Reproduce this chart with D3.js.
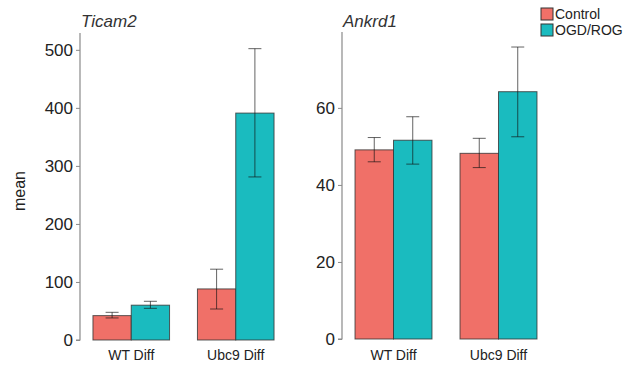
<!DOCTYPE html>
<html>
<head>
<meta charset="utf-8">
<script src="https://cdn.jsdelivr.net/npm/d3@7"></script>
<style>
  body { margin: 0; background: #fff; }
  svg { display: block; font-family: Arial, "Liberation Sans", sans-serif; }
</style>
</head>
<body>
<div id="chart"></div>
<script>
// ---- data ----
const groups = ["WT Diff", "Ubc9 Diff"];
const conditions = ["Control", "OGD/ROG"];

const ticam2Mean = [[42, 60], [88, 391]];
const ticam2Lo   = [[38, 54.6], [53.4, 281]];
const ticam2Hi   = [[47.7, 66.7], [122, 502]];
const ticam2Ticks = [0, 100, 200, 300, 400, 500];

const ankrd1Mean = [[49.1, 51.6], [48.2, 64.2]];
const ankrd1Lo   = [[46.0, 45.4], [44.5, 52.5]];
const ankrd1Hi   = [[52.3, 57.7], [52.1, 75.8]];
const ankrd1Ticks = [0, 20, 40, 60];

const colors = ["#F07068", "#1ABBBF"];

const width = 624, height = 367;
const svg = d3.select("#chart").append("svg")
  .attr("width", width)
  .attr("height", height);

function panel({ title, mean, lo, hi, ticks, yMax, x0, x1, y0, y1 }) {
  const g = svg.append("g");

  const x = d3.scaleBand()
    .domain(groups)
    .range([x0, x1])
    .paddingInner(0.267)
    .paddingOuter(0.124);

  const xSub = d3.scaleBand()
    .domain(conditions)
    .range([0, x.bandwidth()]);

  const y = d3.scaleLinear()
    .domain([0, yMax])
    .range([y0, y1]);

  // Y axis
  const yAxis = d3.axisLeft(y).tickValues(ticks).tickSize(4).tickPadding(3);
  const ax = g.append("g")
    .attr("transform", `translate(${x0},0)`)
    .call(yAxis);
  ax.select(".domain").attr("stroke", "#8a8a8a").attr("stroke-width", 1.2)
    .attr("d", `M-4,${y0}H0V${y1}`);
  ax.selectAll(".tick line").attr("stroke", "#8a8a8a");
  ax.selectAll(".tick text")
    .attr("fill", "#222")
    .style("font-size", "17px");

  // bars
  const rows = [];
  groups.forEach((grp, i) => conditions.forEach((c, j) => {
    rows.push({ grp, c, j, m: mean[i][j], lo: lo[i][j], hi: hi[i][j] });
  }));

  g.selectAll("rect.bar")
    .data(rows)
    .join("rect")
    .attr("class", "bar")
    .attr("x", d => x(d.grp) + xSub(d.c))
    .attr("width", xSub.bandwidth())
    .attr("y", d => y(d.m))
    .attr("height", d => y0 - y(d.m))
    .attr("fill", d => colors[d.j])
    .attr("stroke", "#333")
    .attr("stroke-opacity", 0.8)
    .attr("stroke-width", 1);

  // error bars
  const cap = 6.5;
  const eb = g.selectAll("g.err")
    .data(rows)
    .join("g")
    .attr("class", "err")
    .attr("stroke", "#111")
    .attr("stroke-opacity", 0.65)
    .attr("stroke-width", 1);
  eb.append("line")
    .attr("x1", d => x(d.grp) + xSub(d.c) + xSub.bandwidth() / 2)
    .attr("x2", d => x(d.grp) + xSub(d.c) + xSub.bandwidth() / 2)
    .attr("y1", d => y(d.lo))
    .attr("y2", d => y(d.hi));
  ["lo", "hi"].forEach(k => {
    eb.append("line")
      .attr("x1", d => x(d.grp) + xSub(d.c) + xSub.bandwidth() / 2 - cap)
      .attr("x2", d => x(d.grp) + xSub(d.c) + xSub.bandwidth() / 2 + cap)
      .attr("y1", d => y(d[k]))
      .attr("y2", d => y(d[k]));
  });

  // x labels
  g.selectAll("text.xlab")
    .data(groups)
    .join("text")
    .attr("class", "xlab")
    .attr("x", d => x(d) + x.bandwidth() / 2)
    .attr("y", 360)
    .attr("text-anchor", "middle")
    .attr("fill", "#222")
    .style("font-size", "14px")
    .text(d => d);

  // title
  g.append("text")
    .attr("x", x0 + 1)
    .attr("y", 27)
    .attr("fill", "#333")
    .style("font-size", "17px")
    .style("font-style", "italic")
    .text(title);
}

panel({
  title: "Ticam2", mean: ticam2Mean, lo: ticam2Lo, hi: ticam2Hi,
  ticks: ticam2Ticks, yMax: 529,
  x0: 80, x1: 287, y0: 340, y1: 33
});

panel({
  title: "Ankrd1", mean: ankrd1Mean, lo: ankrd1Lo, hi: ankrd1Hi,
  ticks: ankrd1Ticks, yMax: 79.7,
  x0: 342, x1: 550, y0: 339, y1: 32
});

// y label
svg.append("text")
  .attr("transform", "translate(25,191) rotate(-90)")
  .attr("text-anchor", "middle")
  .attr("fill", "#222")
  .style("font-size", "16px")
  .text("mean");

// legend
const leg = svg.append("g").attr("transform", "translate(541,8)");
conditions.forEach((c, i) => {
  const row = leg.append("g").attr("transform", `translate(0,${i * 16})`);
  row.append("rect")
    .attr("width", 12).attr("height", 12)
    .attr("fill", colors[i])
    .attr("stroke", "#333").attr("stroke-width", 1);
  row.append("text")
    .attr("x", 14).attr("y", 11)
    .attr("fill", "#222")
    .style("font-size", "14px")
    .text(c);
});
</script>
</body>
</html>
